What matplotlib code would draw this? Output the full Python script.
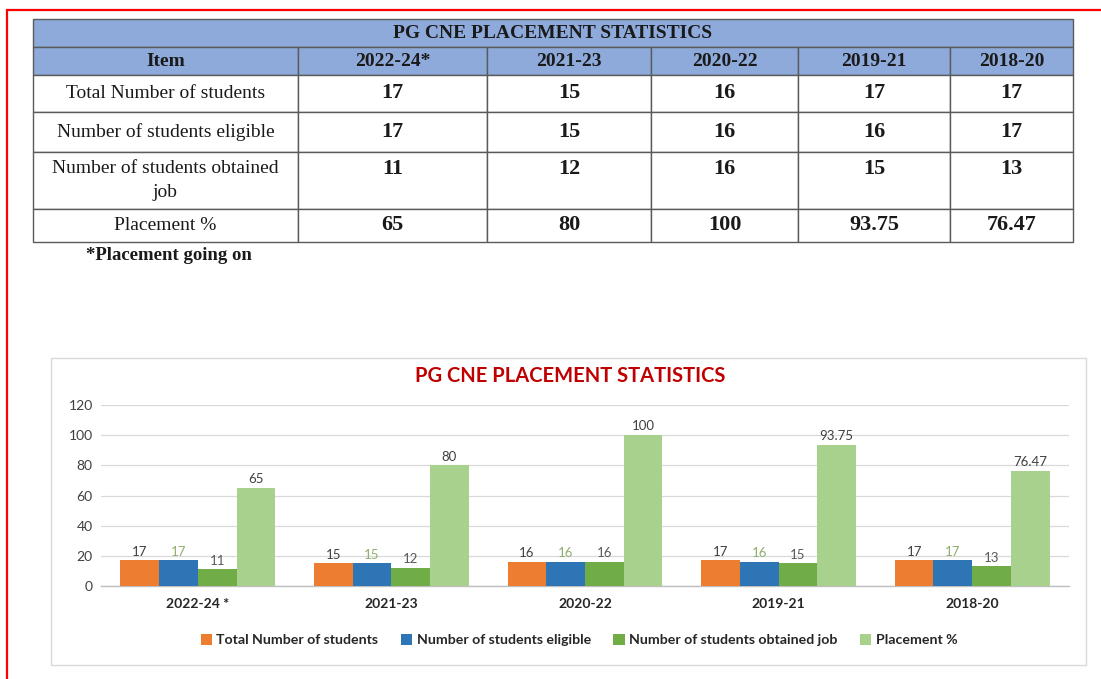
import matplotlib
matplotlib.use("Agg")
import matplotlib.pyplot as plt
from matplotlib.patches import Rectangle
import numpy as np

# ---------------- data ----------------
title = "PG CNE PLACEMENT STATISTICS"
table_periods = ["2022-24*", "2021-23", "2020-22", "2019-21", "2018-20"]
chart_periods = ["2022-24 *", "2021-23", "2020-22", "2019-21", "2018-20"]
items = ["Total Number of students", "Number of students eligible",
         "Number of students obtained\njob", "Placement %"]
total_students = [17, 15, 16, 17, 17]
eligible = [17, 15, 16, 16, 17]
obtained_job = [11, 12, 16, 15, 13]
placement_pct = [65, 80, 100, 93.75, 76.47]
placement_labels = ["65", "80", "100", "93.75", "76.47"]
series_names = ["Total Number of students", "Number of students eligible",
                "Number of students obtained job", "Placement %"]
footnote = "*Placement going on"

# ---------------- layout / style ----------------
W, H = 1101, 679
serif = "Liberation Serif"
sans = "Lato"
hdr_color = "#8eaadb"
edge_color = "#5a5a5a"
bar_colors = ["#ed7d31", "#2e75b6", "#70ad47", "#a9d18e"]
label_colors = ["#404040", "#8fae6e", "#595959", "#404040"]

fig = plt.figure(figsize=(W / 100, H / 100), dpi=100)
page = fig.add_axes([0, 0, 1, 1])
page.set_xlim(0, W)
page.set_ylim(H, 0)
page.axis("off")


def fbox(x0, y0, x1, y1):
    return [x0 / W, 1 - y1 / H, (x1 - x0) / W, (y1 - y0) / H]


# red frame (open to right / bottom)
page.plot([7, 7, W], [H, 10, 10], color="#ff0000", lw=1.6,
          solid_joinstyle="miter")

# ---------------- table ----------------
col_px = [265, 189, 164, 147, 152, 123]
row_px = [28, 37, 40, 57, 33]
tx0, tx1 = 33, 33 + sum(col_px)
ty_title0, ty_title1 = 19, 47
ty1 = ty_title1 + sum(row_px)

# title row (merged)
ttl = page.table(cellText=[[title]], cellLoc="center",
                 bbox=fbox(tx0, ty_title0, tx1, ty_title1))
ttl.auto_set_font_size(False)
for (r, c), cell in ttl.get_celld().items():
    cell.set_facecolor(hdr_color)
    cell.set_edgecolor(edge_color)
    cell.set_linewidth(1.0)
    t = cell.get_text()
    t.set_fontfamily(serif)
    t.set_fontweight("bold")
    t.set_fontsize(14)
    t.set_color("#1a1a1a")

value_rows = [total_students, eligible, obtained_job, placement_labels]
cell_text = []
for i, name in enumerate(items):
    vals = [str(v) for v in value_rows[i]]
    if "\n" in name:
        vals = [v + "\n" for v in vals]
    cell_text.append([name] + vals)

tbl = page.table(cellText=cell_text, colLabels=["Item"] + table_periods,
                 colWidths=[c / W for c in col_px], cellLoc="center",
                 bbox=fbox(tx0, ty_title1, tx1, ty1))
tbl.auto_set_font_size(False)
for (r, c), cell in tbl.get_celld().items():
    cell.set_height(row_px[r] / H)
    cell.set_edgecolor(edge_color)
    cell.set_linewidth(1.0)
    t = cell.get_text()
    t.set_fontfamily(serif)
    t.set_color("#1a1a1a")
    if r == 0:
        cell.set_facecolor(hdr_color)
        t.set_fontweight("bold")
        t.set_fontsize(14)
    elif c == 0:
        cell.set_facecolor("white")
        t.set_fontsize(14)
        t.set_linespacing(1.5)
    else:
        cell.set_facecolor("white")
        t.set_fontweight("bold")
        t.set_fontsize(16)

page.text(86, 255, footnote, family=serif, fontweight="bold", fontsize=13.5,
          va="center", ha="left", color="#1a1a1a")

# ---------------- chart ----------------
page.add_patch(Rectangle((51, 358), 1035, 307, facecolor="white",
                         edgecolor="#d9d9d9", lw=1.0))
page.text(570, 376, title, family=sans, fontweight="bold", fontsize=14.5,
          color="#c00000", ha="center", va="center")

ax = fig.add_axes(fbox(101, 405, 1069, 586))
ax.patch.set_alpha(0)
x = np.arange(len(chart_periods))
bw = 0.2
series = [total_students, eligible, obtained_job, placement_pct]
labels_list = [[str(v) for v in total_students], [str(v) for v in eligible],
               [str(v) for v in obtained_job], placement_labels]
for i, vals in enumerate(series):
    bars = ax.bar(x + (i - 1.5) * bw, vals, width=bw, color=bar_colors[i],
                  label=series_names[i], zorder=3)
    ax.bar_label(bars, labels=labels_list[i], padding=2, fontsize=9.5,
                 color=label_colors[i], family=sans)

ax.set_xlim(-0.5, len(chart_periods) - 0.5)
ax.set_ylim(0, 120)
ax.set_yticks(np.arange(0, 121, 20))
ax.yaxis.grid(True, color="#d9d9d9", lw=0.9, zorder=0)
ax.set_axisbelow(True)
for s in ["top", "right", "left"]:
    ax.spines[s].set_visible(False)
ax.spines["bottom"].set_color("#bfbfbf")
ax.spines["bottom"].set_linewidth(1.0)
ax.tick_params(axis="y", length=0, pad=6, labelsize=10, labelcolor="#404040")
ax.tick_params(axis="x", length=0, pad=9, labelsize=10, labelcolor="#262626")
ax.set_xticks(x)
ax.set_xticklabels(chart_periods, fontweight="bold", family=sans)
for lab in ax.get_yticklabels():
    lab.set_family(sans)

leg = fig.legend(loc="center", bbox_to_anchor=(579 / W, 1 - 640 / H), ncol=4,
                 frameon=False, handlelength=0.8, handleheight=0.8,
                 handletextpad=0.3, columnspacing=1.6,
                 prop={"family": sans, "weight": "bold", "size": 10.2})
for t in leg.get_texts():
    t.set_color("#262626")

fig.savefig("out.png", dpi=100, facecolor="white")
